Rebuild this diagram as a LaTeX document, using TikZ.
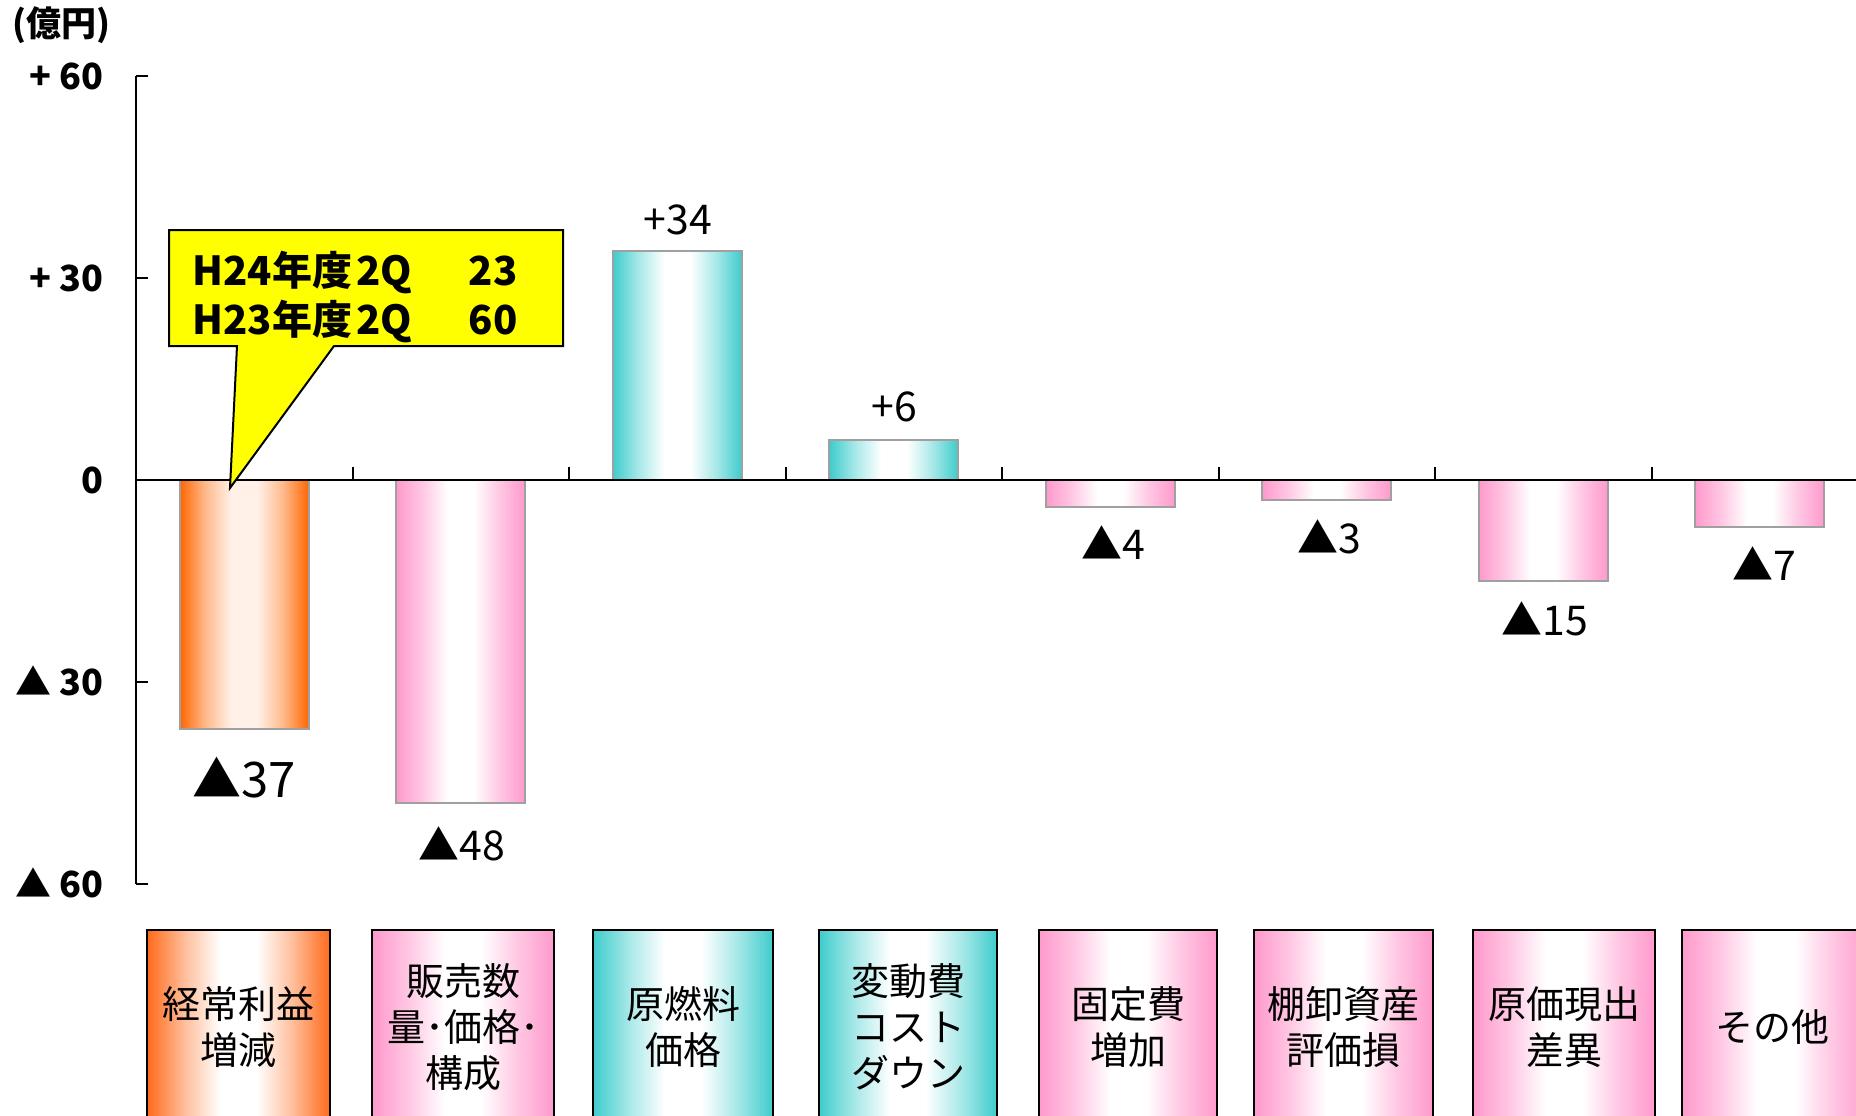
\documentclass[tikz,border=0pt]{standalone}
\usepackage{fontspec}
\setmainfont{Noto Sans CJK JP}
\definecolor{orn}{HTML}{FF6A1A}
\definecolor{orb}{HTML}{FF6600}
\definecolor{pnk}{HTML}{FF99CC}
\definecolor{tl}{HTML}{3ECCCC}
\definecolor{yel}{HTML}{FFFF00}
\definecolor{barline}{HTML}{A0A0A0}
\pgfdeclarehorizontalshading{shPink}{100bp}{color(0bp)=(pnk); color(25bp)=(pnk); color(35bp)=(pnk!55!white); color(45bp)=(white); color(55bp)=(white); color(65bp)=(pnk!55!white); color(75bp)=(pnk); color(100bp)=(pnk)}
\pgfdeclarehorizontalshading{shTeal}{100bp}{color(0bp)=(tl); color(25bp)=(tl); color(35bp)=(tl!45!white); color(45bp)=(white); color(55bp)=(white); color(65bp)=(tl!45!white); color(75bp)=(tl); color(100bp)=(tl)}
\pgfdeclarehorizontalshading{shOrBox}{100bp}{color(0bp)=(orn); color(25bp)=(orn); color(35bp)=(orn!45!white); color(45bp)=(white); color(55bp)=(white); color(65bp)=(orn!45!white); color(75bp)=(orn); color(100bp)=(orn)}
\pgfdeclarehorizontalshading{shOrBar}{100bp}{color(0bp)=(orb); color(25bp)=(orb); color(35bp)=(orb!45!white); color(45bp)=(orb!9!white); color(55bp)=(orb!9!white); color(65bp)=(orb!45!white); color(75bp)=(orb); color(100bp)=(orb)}
\begin{document}
\begin{tikzpicture}[x=0.5pt,y=-0.5pt,
  barP/.style={shading=shPink, draw=barline, line width=1.1pt},
  barT/.style={shading=shTeal, draw=barline, line width=1.1pt},
  barO/.style={shading=shOrBar, draw=barline, line width=1.1pt},
  catP/.style={shading=shPink, draw=black, line width=1pt},
  catT/.style={shading=shTeal, draw=black, line width=1pt},
  catO/.style={shading=shOrBox, draw=black, line width=1pt},
  axisline/.style={draw=black, line width=1pt},
  val/.style={font=\fontsize{20.5pt}{24pt}\selectfont, anchor=base, inner sep=0pt},
  valbig/.style={font=\fontsize{24.5pt}{28pt}\selectfont, anchor=base, inner sep=0pt},
  ylab/.style={font=\bfseries\fontsize{18pt}{22pt}\selectfont, anchor=base east, inner sep=0pt},
  cattext/.style={font=\fontsize{19pt}{23pt}\selectfont, align=center, inner sep=0pt},
  calltext/.style={font=\bfseries\fontsize{20pt}{24pt}\selectfont, inner sep=0pt}
]
\useasboundingbox (0,0) rectangle (1856,1115);
\clip (0,0) rectangle (1856,1115);

% bars (category width 216.5, bar width 129)
\path[barO] (179.75,480) rectangle (308.75,729.1);
\path[barP] (396.25,480) rectangle (525.25,803.2);
\path[barT] (612.75,480) rectangle (741.75,251.1);
\path[barT] (829.25,480) rectangle (958.25,439.6);
\path[barP] (1045.75,480) rectangle (1174.75,506.9);
\path[barP] (1262.25,480) rectangle (1391.25,500.2);
\path[barP] (1478.75,480) rectangle (1607.75,581);
\path[barP] (1695.25,480) rectangle (1824.25,527.1);

% axes
\coordinate (ytop) at (136,76);
\coordinate (ybot) at (136,884);
\coordinate (zl) at (136,480);
\coordinate (zr) at (1856,480);
\draw[axisline] (ytop) -- (ybot);
\draw[axisline] (zl) -- (zr);
\foreach \yy in {76,278,682,884} \draw[axisline] (136,\yy) -- (148,\yy);
\foreach \k in {1,...,7} \draw[axisline] ({136+\k*216.5},480) -- ({136+\k*216.5},467);

% y labels
\node[font=\bfseries\fontsize{17.5pt}{20pt}\selectfont, anchor=west, inner sep=0pt] (unit) at (12,25) {(億円)};
\node[ylab] (y60) at (104,89) {+ 60};
\node[ylab] (y30) at (104,291) {+ 30};
\node[ylab] (y0) at (104,493) {0};
\node[ylab] (ym30) at (104,695) {▲ 30};
\node[ylab] (ym60) at (104,897) {▲ 60};

% value labels
\node[valbig] (v1) at (244,797) {▲37};
\node[val] (v2) at (462,860) {▲48};
\node[val] (v3) at (678,234) {+34};
\node[val] (v4) at (894,421) {+6};
\node[val] (v5) at (1113,559) {▲4};
\node[val] (v6) at (1329,553) {▲3};
\node[val] (v7) at (1545,635) {▲15};
\node[val] (v8) at (1764,580) {▲7};

% category boxes
\path[catO] (147,930) rectangle (330,1140);
\path[catP] (372,930) rectangle (554,1140);
\path[catT] (593,930) rectangle (773,1140);
\path[catT] (819,930) rectangle (997,1140);
\path[catP] (1039,930) rectangle (1217,1140);
\path[catP] (1254,930) rectangle (1433,1140);
\path[catP] (1473,930) rectangle (1655,1140);
\path[catP] (1682,930) rectangle (1870,1140);
\node[cattext] (c1) at (238.5,1027) {経常利益\\増減};
\node[cattext] (c2) at (463,1027) {販売数\\量･価格･\\構成};
\node[cattext] (c3) at (683,1027) {原燃料\\価格};
\node[cattext] (c4) at (908,1027) {変動費\\コスト\\ダウン};
\node[cattext] (c5) at (1128,1027) {固定費\\増加};
\node[cattext] (c6) at (1343.5,1027) {棚卸資産\\評価損};
\node[cattext] (c7) at (1564,1027) {原価現出\\差異};
\node[cattext] (c8) at (1772,1027) {その他};

% callout
\draw[fill=yel, line width=1pt, line join=miter] (169,230) -- (563,230) -- (563,346) -- (334,346) -- (230,488) -- (237,346) -- (169,346) -- cycle;
\node[calltext, anchor=base west] (h24) at (192,285) {H24年度\kern2pt 2Q};
\node[calltext, anchor=base east] (n23) at (518,285) {23};
\node[calltext, anchor=base west] (h23) at (192,334) {H23年度\kern2pt 2Q};
\node[calltext, anchor=base east] (n60) at (518,334) {60};
\end{tikzpicture}
\end{document}
